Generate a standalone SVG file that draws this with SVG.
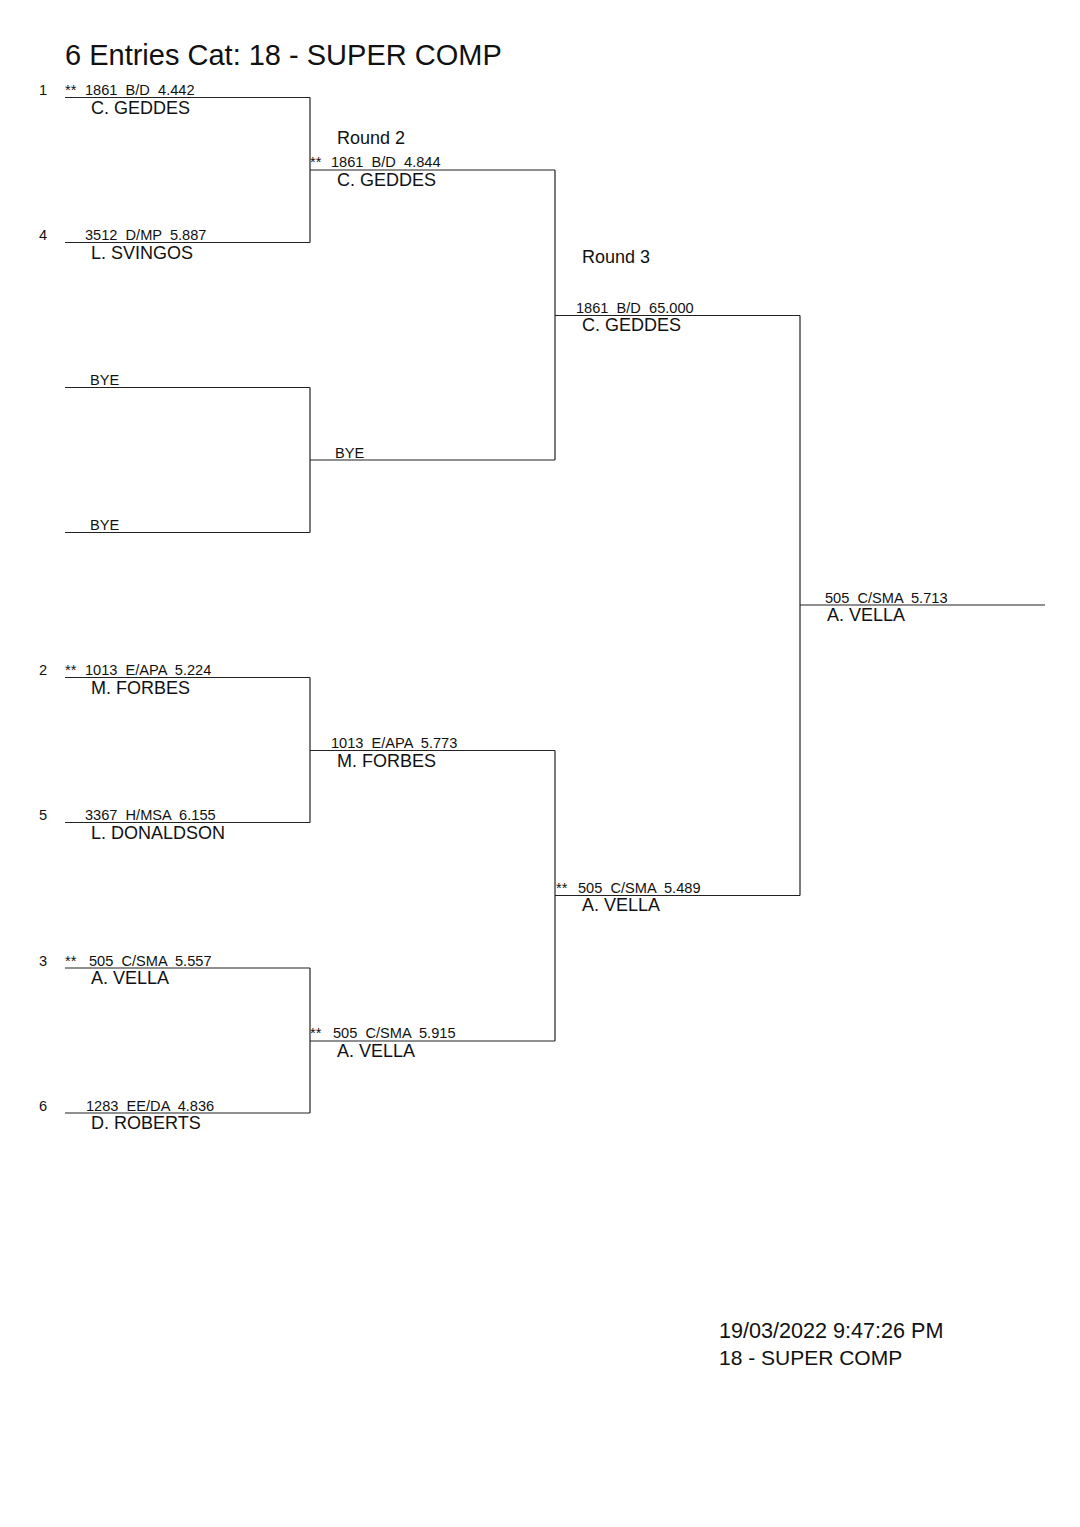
<svg xmlns="http://www.w3.org/2000/svg" width="1080" height="1527" viewBox="0 0 1080 1527" xml:space="preserve">
<style>
  text { font-family: "Liberation Sans", Arial, sans-serif; fill: #111; white-space: pre; }
  .title { font-size: 29px; }
  .sm { font-size: 14.6px; }
  .nm { font-size: 18px; }
  .rnd { font-size: 18px; }
  .ft { font-size: 21px; }
  .ftd { font-size: 21.6px; }
  line { stroke: #222; stroke-width: 1.2; fill: none; }
</style>
<rect width="1080" height="1527" fill="#fff"/>
<text class="title" x="65" y="65">6 Entries Cat: 18 - SUPER COMP</text>
<text class="rnd" x="337" y="144">Round 2</text>
<text class="rnd" x="582" y="263">Round 3</text>

<g id="r1-1">
  <line x1="65" y1="97.5" x2="310" y2="97.5"/>
  <text class="sm" x="39" y="95">1</text>
  <text class="sm" x="65" y="95">**</text>
  <text class="sm" x="85" y="95" xml:space="preserve">1861  B/D  4.442</text>
  <text class="nm" x="91" y="113.5">C. GEDDES</text>
</g>
<g id="r1-4">
  <line x1="65" y1="242.5" x2="310" y2="242.5"/>
  <text class="sm" x="39" y="240">4</text>
  <text class="sm" x="85" y="240" xml:space="preserve">3512  D/MP  5.887</text>
  <text class="nm" x="91" y="258.5">L. SVINGOS</text>
</g>
<g id="r1-bye1">
  <line x1="65" y1="387.5" x2="310" y2="387.5"/>
  <text class="sm" x="90" y="385">BYE</text>
</g>
<g id="r1-bye2">
  <line x1="65" y1="532.5" x2="310" y2="532.5"/>
  <text class="sm" x="90" y="530">BYE</text>
</g>
<g id="r1-2">
  <line x1="65" y1="677.5" x2="310" y2="677.5"/>
  <text class="sm" x="39" y="675">2</text>
  <text class="sm" x="65" y="675">**</text>
  <text class="sm" x="85" y="675" xml:space="preserve">1013  E/APA  5.224</text>
  <text class="nm" x="91" y="693.5">M. FORBES</text>
</g>
<g id="r1-5">
  <line x1="65" y1="822.5" x2="310" y2="822.5"/>
  <text class="sm" x="39" y="820">5</text>
  <text class="sm" x="85" y="820" xml:space="preserve">3367  H/MSA  6.155</text>
  <text class="nm" x="91" y="838.5">L. DONALDSON</text>
</g>
<g id="r1-3">
  <line x1="65" y1="968" x2="310" y2="968"/>
  <text class="sm" x="39" y="965.5">3</text>
  <text class="sm" x="65" y="965.5">**</text>
  <text class="sm" x="89" y="965.5" xml:space="preserve">505  C/SMA  5.557</text>
  <text class="nm" x="91" y="984">A. VELLA</text>
</g>
<g id="r1-6">
  <line x1="65" y1="1113" x2="310" y2="1113"/>
  <text class="sm" x="39" y="1110.5">6</text>
  <text class="sm" x="86" y="1110.5" xml:space="preserve">1283  EE/DA  4.836</text>
  <text class="nm" x="91" y="1129">D. ROBERTS</text>
</g>

<g id="r2-1">
  <line x1="310" y1="170" x2="555" y2="170"/>
  <text class="sm" x="310" y="167">**</text>
  <text class="sm" x="331" y="167" xml:space="preserve">1861  B/D  4.844</text>
  <text class="nm" x="337" y="186">C. GEDDES</text>
</g>
<g id="r2-2">
  <line x1="310" y1="460" x2="555" y2="460"/>
  <text class="sm" x="335" y="457.5">BYE</text>
</g>
<g id="r2-3">
  <line x1="310" y1="750.5" x2="555" y2="750.5"/>
  <text class="sm" x="331" y="748" xml:space="preserve">1013  E/APA  5.773</text>
  <text class="nm" x="337" y="766.5">M. FORBES</text>
</g>
<g id="r2-4">
  <line x1="310" y1="1041" x2="555" y2="1041"/>
  <text class="sm" x="310" y="1038">**</text>
  <text class="sm" x="333" y="1038" xml:space="preserve">505  C/SMA  5.915</text>
  <text class="nm" x="337" y="1056.5">A. VELLA</text>
</g>

<g id="r3-1">
  <line x1="555" y1="315.5" x2="800" y2="315.5"/>
  <text class="sm" x="576" y="312.5" xml:space="preserve">1861  B/D  65.000</text>
  <text class="nm" x="582" y="331">C. GEDDES</text>
</g>
<g id="r3-2">
  <line x1="555" y1="895.5" x2="800" y2="895.5"/>
  <text class="sm" x="556" y="893">**</text>
  <text class="sm" x="578" y="893" xml:space="preserve">505  C/SMA  5.489</text>
  <text class="nm" x="582" y="911">A. VELLA</text>
</g>

<g id="final">
  <line x1="800" y1="605" x2="1045" y2="605"/>
  <text class="sm" x="825" y="602.5" xml:space="preserve">505  C/SMA  5.713</text>
  <text class="nm" x="827" y="621">A. VELLA</text>
</g>

<g id="connectors">
  <line x1="310" y1="97.5" x2="310" y2="242.5"/>
  <line x1="310" y1="387.5" x2="310" y2="532.5"/>
  <line x1="310" y1="677.5" x2="310" y2="822.5"/>
  <line x1="310" y1="968" x2="310" y2="1113"/>
  <line x1="555" y1="170" x2="555" y2="460"/>
  <line x1="555" y1="750.5" x2="555" y2="1041"/>
  <line x1="800" y1="315.5" x2="800" y2="895.5"/>
</g>

<g id="footer">
  <text class="ftd" x="719" y="1338">19/03/2022 9:47:26 PM</text>
  <text class="ft" x="719" y="1365">18 - SUPER COMP</text>
</g>
</svg>
